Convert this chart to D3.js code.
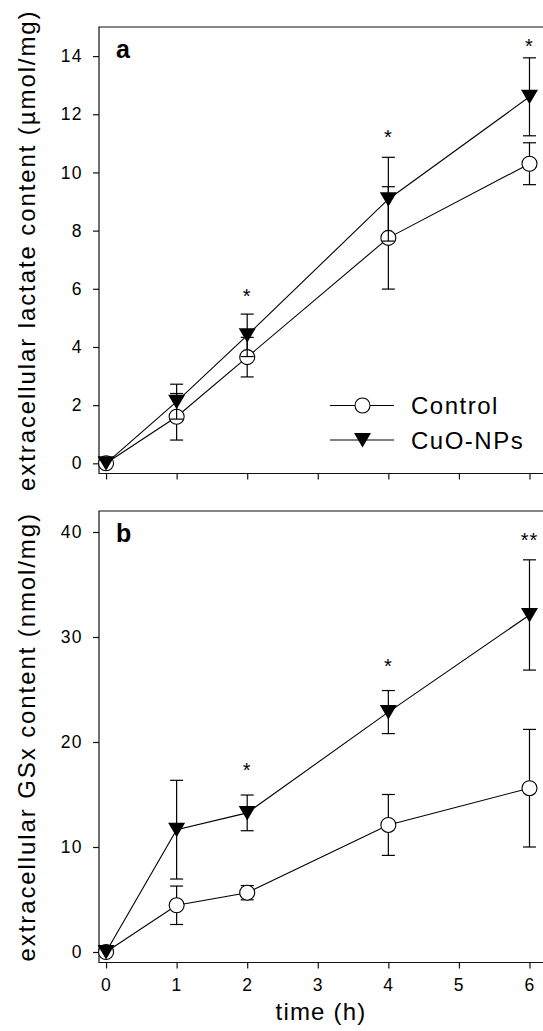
<!DOCTYPE html>
<html>
<head>
<meta charset="utf-8">
<script src="https://cdn.jsdelivr.net/npm/d3@7"></script>
<style>
  body { margin: 0; background: #fff; }
  svg { font-family: "Liberation Sans", Arial, sans-serif; }
</style>
</head>
<body>
<div id="chart-area"></div>
<script>
// Data
let times = [0, 1, 2, 4, 6];
let xTicks = [0, 1, 2, 3, 4, 5, 6];

let lactateControl = [0, 1.6, 3.65, 7.75, 10.3];
let lactateControlErr = [0, 0.8, 0.68, 1.76, 0.72];
let lactateCuO = [0, 2.12, 4.4, 9.08, 12.6];
let lactateCuOErr = [0, 0.6, 0.73, 1.44, 1.34];
let lactateStars = [{t: 2, y: 5.9, s: "*"}, {t: 4, y: 11.35, s: "*"}, {t: 6, y: 14.47, s: "*"}];
let lactateTicks = [0, 2, 4, 6, 8, 10, 12, 14];

let gsxControl = [0, 4.45, 5.65, 12.1, 15.6];
let gsxControlErr = [0, 1.83, 0.68, 2.9, 5.6];
let gsxCuO = [0, 11.65, 13.25, 22.85, 32.1];
let gsxCuOErr = [0, 4.7, 1.7, 2.05, 5.25];
let gsxStars = [{t: 2, y: 17.7, s: "*"}, {t: 4, y: 27.6, s: "*"}, {t: 6, y: 39.6, s: "**"}];
let gsxTicks = [0, 10, 20, 30, 40];

let seriesNames = ["Control", "CuO-NPs"];

let W = 543, H = 1031;
let svg = d3.select("#chart-area").append("svg")
    .attr("width", W)
    .attr("height", H);

let x = d3.scaleLinear().domain([-0.1, 6.2]).range([99, 543.6]);

function circleMarker(g, cx, cy) {
  g.append("circle").attr("cx", cx).attr("cy", cy).attr("r", 7.5)
    .attr("fill", "#fff").attr("stroke", "#000").attr("stroke-width", 1.1);
}
function triMarker(g, cx, cy) {
  g.append("path")
    .attr("d", "M" + (cx - 8.5) + "," + (cy - 7) + "L" + (cx + 8.5) + "," + (cy - 7) + "L" + cx + "," + (cy + 7.5) + "Z")
    .attr("fill", "#000");
}

function drawPanel(opts) {
  let y = d3.scaleLinear().domain(opts.domain).range([opts.bottom, opts.top]);
  let g = svg.append("g");

  // frame (right side runs off the page)
  g.append("path")
    .attr("d", "M" + x.range()[1] + "," + opts.top + "H" + x.range()[0] + "V" + opts.bottom + "H" + x.range()[1])
    .attr("fill", "none").attr("stroke", "#111").attr("stroke-width", 1.2);

  // y axis
  let yAxis = d3.axisLeft(y).tickValues(opts.yTicks).tickSize(6).tickPadding(10);
  let ya = g.append("g").attr("transform", "translate(" + x.range()[0] + ",0)").call(yAxis);
  ya.select(".domain").remove();
  ya.selectAll("line").attr("stroke", "#111").attr("stroke-width", 1.2);
  ya.selectAll("text").attr("font-size", 17.5).attr("letter-spacing", 1.4)
    .attr("font-family", "Liberation Sans, Arial, sans-serif").attr("fill", "#000");

  // x axis
  let xAxis = d3.axisBottom(x).tickValues(xTicks).tickSize(6).tickPadding(10)
    .tickFormat(opts.xLabels ? d3.format("d") : "");
  let xa = g.append("g").attr("transform", "translate(0," + opts.bottom + ")").call(xAxis);
  xa.select(".domain").remove();
  xa.selectAll("line").attr("stroke", "#111").attr("stroke-width", 1.2);
  xa.selectAll("text").attr("font-size", 17.5).attr("letter-spacing", 1.4)
    .attr("font-family", "Liberation Sans, Arial, sans-serif").attr("fill", "#000");

  // y title
  g.append("text")
    .attr("transform", "translate(35," + ((opts.top + opts.bottom) / 2) + ") rotate(-90)")
    .attr("text-anchor", "middle")
    .attr("font-size", 24).attr("letter-spacing", 1.9)
    .text(opts.yTitle);

  // panel letter
  g.append("text").attr("x", 116).attr("y", opts.top + 31)
    .attr("font-size", 25).attr("font-weight", "bold").text(opts.letter);

  let line = d3.line().x((d, i) => x(times[i])).y(d => y(d));

  // series: control first, CuO drawn on top
  [[opts.control, opts.controlErr, circleMarker], [opts.cuo, opts.cuoErr, triMarker]].forEach(s => {
    let vals = s[0], errs = s[1], marker = s[2];
    g.append("path").attr("d", line(vals)).attr("fill", "none")
      .attr("stroke", "#000").attr("stroke-width", 1.1);
    vals.forEach((v, i) => {
      if (errs[i] > 0) {
        let cx = x(times[i]), y1 = y(v + errs[i]), y2 = y(v - errs[i]);
        g.append("line").attr("x1", cx).attr("x2", cx).attr("y1", y1).attr("y2", y2)
          .attr("stroke", "#000").attr("stroke-width", 1.2);
        [y1, y2].forEach(yy => {
          g.append("line").attr("x1", cx - 6.5).attr("x2", cx + 6.5).attr("y1", yy).attr("y2", yy)
            .attr("stroke", "#000").attr("stroke-width", 1.2);
        });
      }
      marker(g, x(times[i]), y(v));
    });
  });

  // significance marks
  g.selectAll(".star").data(opts.stars).enter().append("text")
    .attr("class", "star")
    .attr("x", d => x(d.t)).attr("y", d => y(d.y) + 11)
    .attr("text-anchor", "middle").attr("font-size", 20).attr("letter-spacing", 1)
    .text(d => d.s);

  return y;
}

drawPanel({
  top: 27, bottom: 473.5, domain: [-0.35, 15], yTicks: lactateTicks, xLabels: false,
  yTitle: "extracellular lactate content (\u00b5mol/mg)", letter: "a",
  control: lactateControl, controlErr: lactateControlErr,
  cuo: lactateCuO, cuoErr: lactateCuOErr, stars: lactateStars
});

drawPanel({
  top: 511, bottom: 962.5, domain: [-1, 42], yTicks: gsxTicks, xLabels: true,
  yTitle: "extracellular GSx content (nmol/mg)", letter: "b",
  control: gsxControl, controlErr: gsxControlErr,
  cuo: gsxCuO, cuoErr: gsxCuOErr, stars: gsxStars
});

// x title
svg.append("text").attr("x", 321).attr("y", 1020)
  .attr("text-anchor", "middle").attr("font-size", 24).attr("letter-spacing", 1.2)
  .text("time (h)");

// legend
let legend = svg.append("g");
seriesNames.forEach((name, i) => {
  let ly = 405.5 + i * 34.5;
  legend.append("line").attr("x1", 330).attr("x2", 394).attr("y1", ly).attr("y2", ly)
    .attr("stroke", "#000").attr("stroke-width", 1.1);
  if (i === 0) circleMarker(legend, 362.5, ly); else triMarker(legend, 362.5, ly);
  legend.append("text").attr("x", 411).attr("y", ly + 8.5)
    .attr("font-size", 24).attr("letter-spacing", 1.5).text(name);
});
</script>
</body>
</html>
